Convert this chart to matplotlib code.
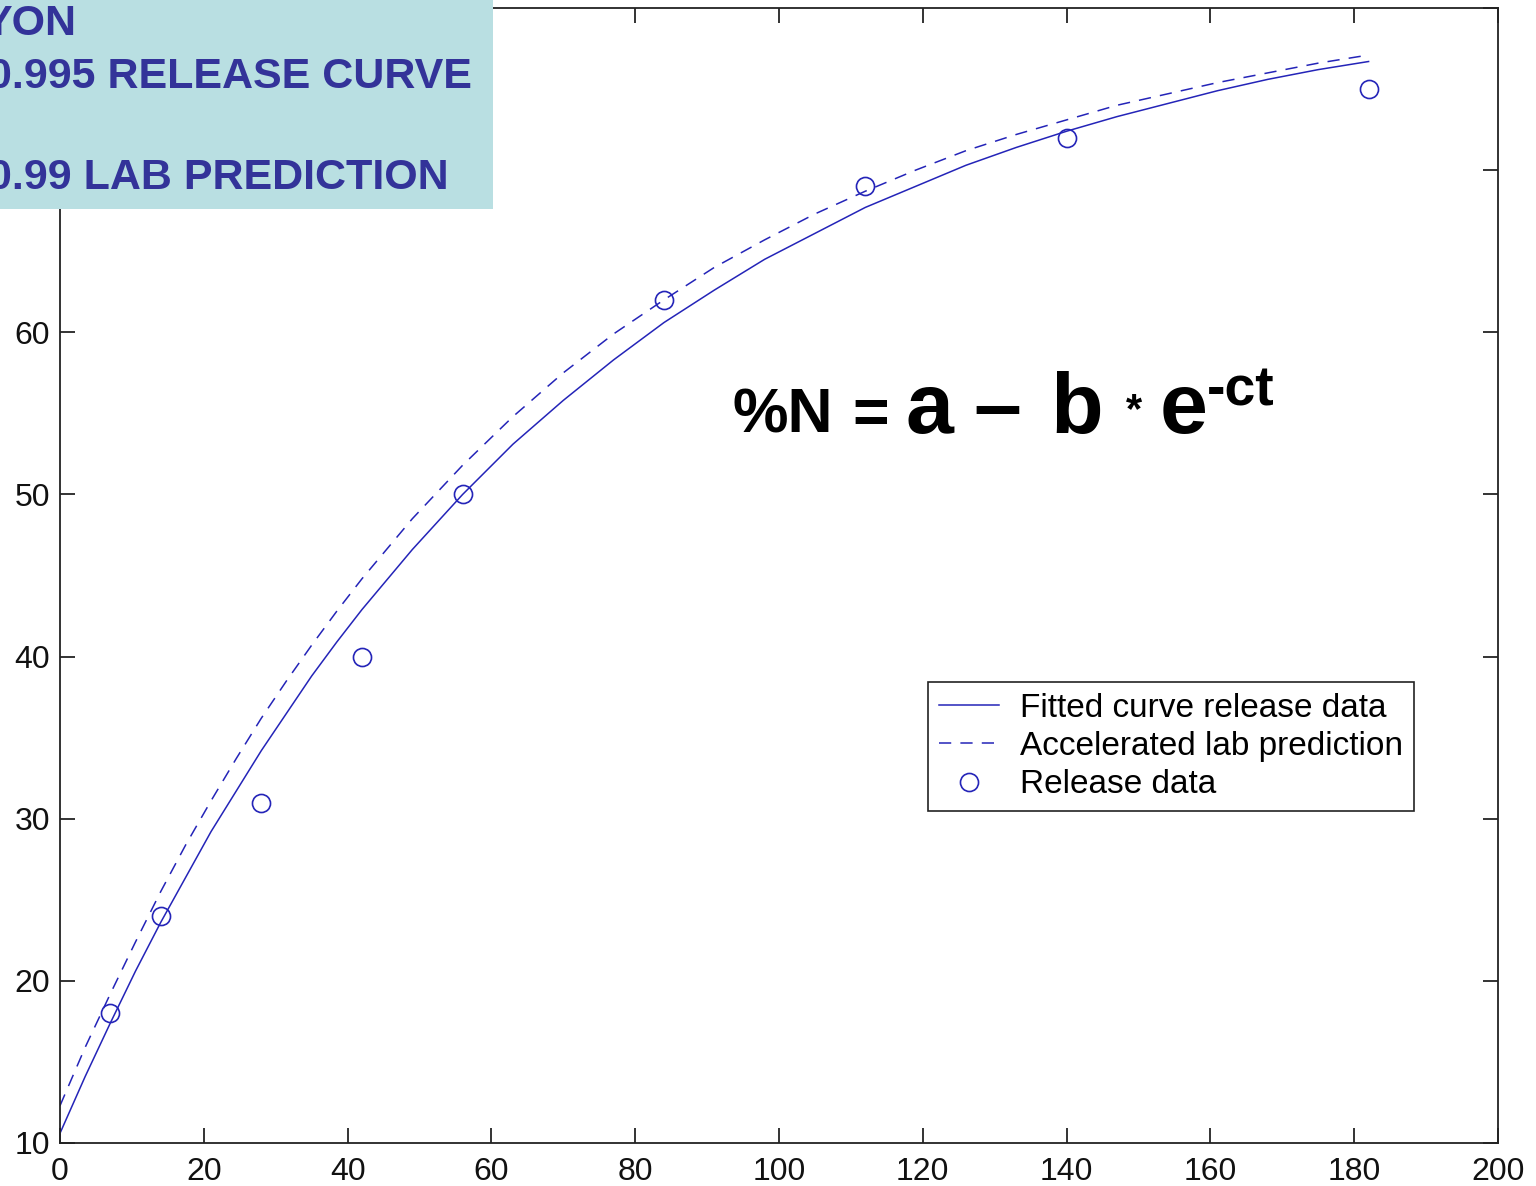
import numpy as np
import matplotlib
matplotlib.use("Agg")
import matplotlib.pyplot as plt
from matplotlib.patches import Rectangle
from matplotlib import rcParams
rcParams['font.family'] = ['Liberation Sans', 'DejaVu Sans']

W, H = 1536, 1186

# values
days_curve = [0, 3.5, 7, 10.5, 14, 17.5, 21, 24.5, 28, 31.5, 35, 38.5, 42, 49, 56, 63, 70,
              77, 84, 91, 98, 105, 112, 119, 126, 133, 140, 147, 154, 161, 168, 175, 182]
fitted = [10.6, 14.1, 17.4, 20.6, 23.6, 26.4, 29.2, 31.7, 34.2, 36.5, 38.8, 40.9, 42.9,
          46.6, 50.0, 53.1, 55.8, 58.3, 60.6, 62.6, 64.5, 66.1, 67.7, 69.0, 70.3, 71.4,
          72.4, 73.3, 74.1, 74.9, 75.6, 76.2, 76.7]
lab_pred = [12.3, 15.9, 19.2, 22.4, 25.5, 28.4, 31.1, 33.7, 36.2, 38.5, 40.7, 42.8, 44.8,
            48.5, 51.8, 54.8, 57.5, 59.9, 62.0, 64.0, 65.7, 67.3, 68.7, 70.0, 71.2, 72.2,
            73.1, 74.0, 74.7, 75.4, 76.0, 76.6, 77.1]
days_obs = [7, 14, 28, 42, 56, 84, 112, 140, 182]
release = [18, 24, 31, 40, 50, 62, 69, 72, 75]

xticks = [0, 20, 40, 60, 80, 100, 120, 140, 160, 180, 200]
yticks = [10, 20, 30, 40, 50, 60, 70, 80]

blue = '#2424b8'
textblue = '#333399'


def fx(x):
    return x / W


def fy(y):
    return 1 - y / H


fig = plt.figure(figsize=(W / 100, H / 100), dpi=100)
ax = fig.add_axes([fx(60), fy(1143), fx(1498) - fx(60), fy(8) - fy(1143)])

ax.plot(days_curve, fitted, color=blue, lw=1.1, label='Fitted curve release data')
ax.plot(days_curve, lab_pred, color=blue, lw=1.1, linestyle=(0, (8, 6)),
        label='Accelerated lab prediction')
ax.plot(days_obs, release, linestyle='none', marker='o', ms=13, mfc='none',
        mec=blue, mew=1.2, label='Release data')

ax.set_xlim(0, 200)
ax.set_ylim(10, 80)
ax.set_xticks(xticks)
ax.set_yticks(yticks)
ax.tick_params(direction='in', length=11, width=1.2, top=True, right=True,
               labelsize=23, colors='#111111')
ax.tick_params(axis='x', pad=10)
ax.tick_params(axis='y', pad=7)
for s in ax.spines.values():
    s.set_linewidth(1.3)
    s.set_color('#222222')

leg = ax.legend(loc='upper left', bbox_to_anchor=((928 - 60) / 1438, (1143 - 682) / 1135),
                borderaxespad=0, fontsize=24, fancybox=False, framealpha=1,
                edgecolor='#222222', handlelength=1.8, handletextpad=0.65,
                borderpad=0.32, labelspacing=0.22)
leg.get_frame().set_linewidth(1.2)

# equation
eq = [("%N", 733, 433, 45), ("=", 852, 433, 45), ("a", 906, 433, 62),
      ("\u2013", 973, 433, 62), ("b", 1050, 433, 62), ("*", 1126, 422, 30),
      ("e", 1160, 433, 62), ("-ct", 1207, 405, 40)]
for s, x, y, size in eq:
    fig.text(fx(x), fy(y), s, fontsize=size, fontweight='bold', color='black',
             ha='left', va='baseline')

# cyan box in the top left corner
fig.add_artist(Rectangle((0, fy(209)), fx(493), 1 - fy(209), transform=fig.transFigure,
                         facecolor='#b9dfe2', edgecolor='none', zorder=10))
box_lines = [("YON", 76, 35), ("0.995 RELEASE CURVE", 472, 88),
             ("0.99 LAB PREDICTION", 449, 189)]
for s, x, y in box_lines:
    fig.text(fx(x), fy(y), s, fontsize=31, fontweight='bold', color=textblue,
             ha='right', va='baseline', zorder=11)

fig.savefig('out.png', dpi=100)
